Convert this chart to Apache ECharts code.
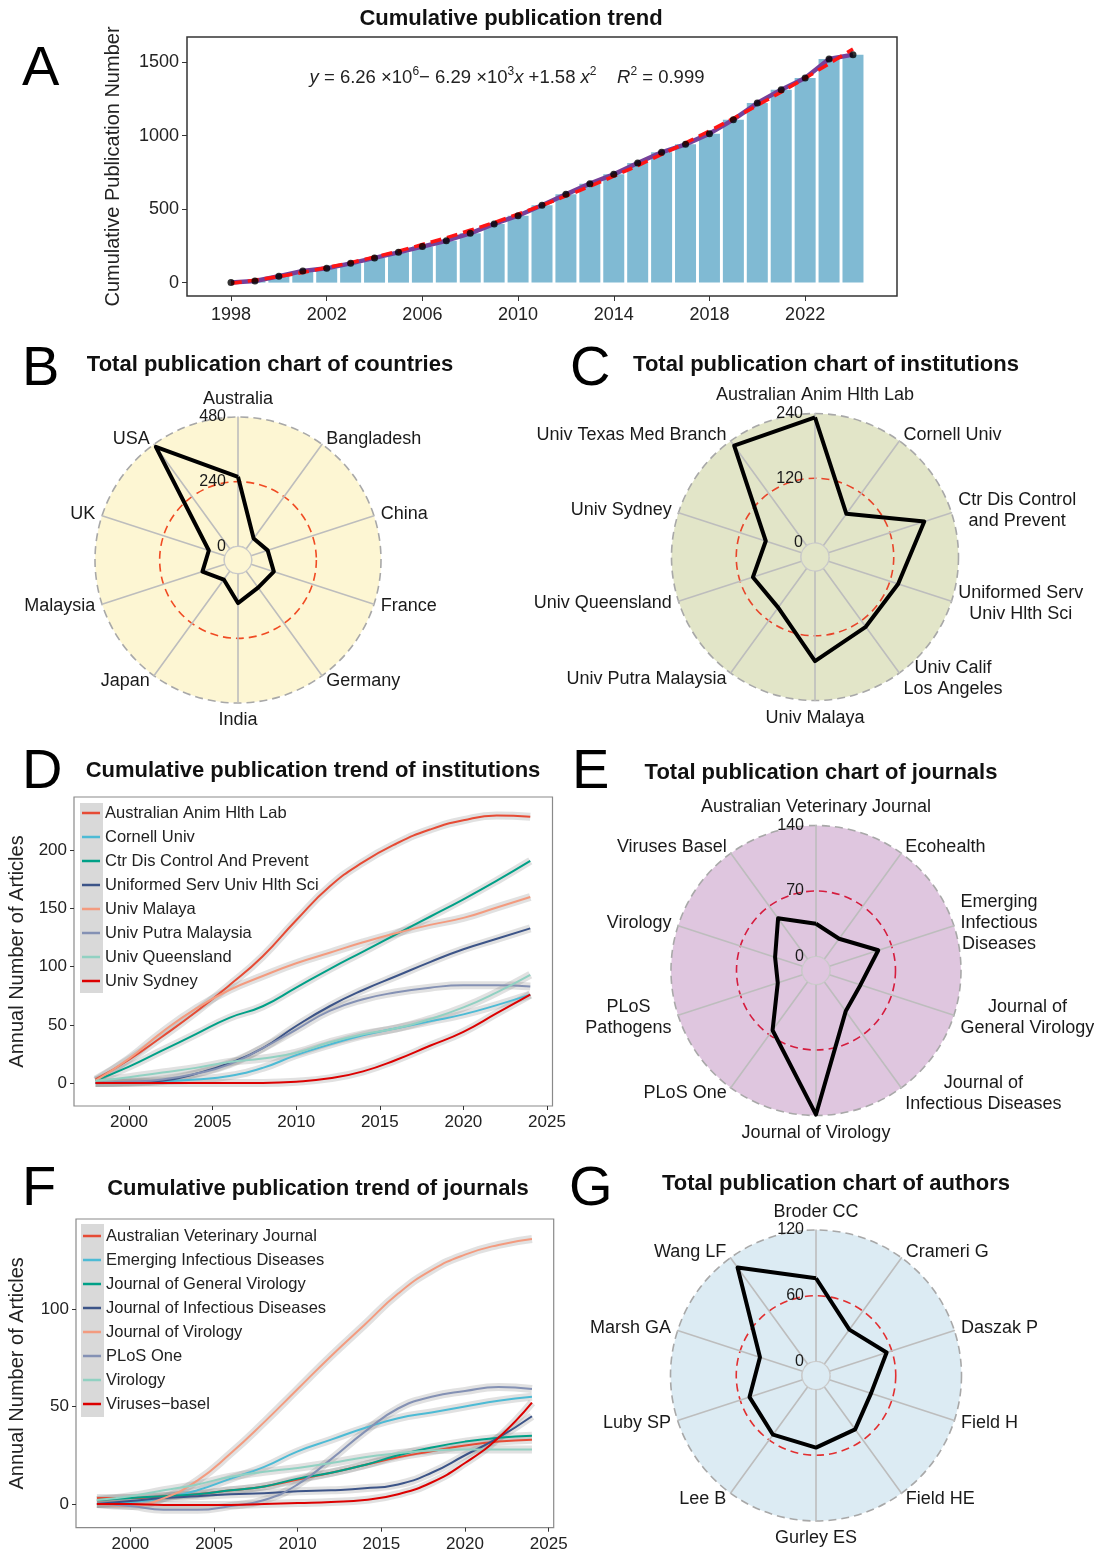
<!DOCTYPE html>
<html><head><meta charset="utf-8">
<script src="https://cdn.jsdelivr.net/npm/echarts@6/dist/echarts.min.js"></script>
<style>html,body{margin:0;padding:0;background:#fff}#c{width:1094px;height:1555px}</style>
</head><body><div id="c"></div>
<script>
const FONT = 'Arial, "Liberation Sans", Helvetica, sans-serif';

// ---------- Panel A data ----------
const yearsA = [1998,1999,2000,2001,2002,2003,2004,2005,2006,2007,2008,2009,2010,2011,2012,2013,2014,2015,2016,2017,2018,2019,2020,2021,2022,2023,2024];
const cumulative = [0,11,43,79,97,131,168,206,245,285,335,399,455,526,600,673,736,813,886,940,1013,1108,1221,1312,1391,1520,1550];
const fitYears = [1998,2000,2002,2004,2006,2008,2010,2012,2014,2016,2018,2020,2022,2024];
const fitValues = [-5,42,102,174,259,356,466,589,724,872,1032,1205,1391,1589];
const yTicksA = [0,500,1000,1500];
const xTicksA = [1998,2002,2006,2010,2014,2018,2022];

// ---------- Radar data (clockwise from top) ----------
const countries = ['Australia','Bangladesh','China','France','Germany','India','Japan','Malaysia','UK','USA'];
const countryCounts = [258,48,65,89,76,109,39,88,63,468];
const institutions = ['Australian Anim Hlth Lab','Cornell Univ','Ctr Dis Control\nand Prevent','Uniformed Serv\nUniv Hlth Sci','Univ Calif\nLos Angeles','Univ Malaya','Univ Putra Malaysia','Univ Queensland','Univ Sydney','Univ Texas Med Branch'];
const institutionCounts = [233,73,187,136,134,167,90,95,70,229];
const journals = ['Australian Veterinary Journal','Ecohealth','Emerging\nInfectious\nDiseases','Journal of\nGeneral Virology','Journal of\nInfectious Diseases','Journal of Virology','PLoS One','PLoS\nPathogens','Virology','Viruses Basel'];
const journalCounts = [35,27,55,35,39,139,64,28,31,54];
const authors = ['Broder CC','Crameri G','Daszak P','Field H','Field HE','Gurley ES','Lee B','Luby SP','Marsh GA','Wang LF'];
const authorCounts = [76,39,55,40,48,53,54,51,41,109];

// ---------- Trend data (D, F) ----------
const trendYears = [1998,2000,2002,2004,2006,2008,2010,2012,2014,2016,2018,2020,2022,2024];
const trendTicks = [2000,2005,2010,2015,2020,2025];
const palette = ['#E64B35','#4DBBD5','#00A087','#3C5488','#F39B7F','#8491B4','#91D1C2','#DC0000'];

const instNames = ['Australian Anim Hlth Lab','Cornell Univ','Ctr Dis Control And Prevent','Uniformed Serv Univ Hlth Sci','Univ Malaya','Univ Putra Malaysia','Univ Queensland','Univ Sydney'];
const instAAHL = [3,20,40,61,84,109,140,169,190,206,218,226,230,229];
const instCornell = [0,0.5,1.5,3,6,13,24,33,41,47,53,59,67,76];
const instCDC = [2,14,28,42,56,66,82,98,113,128,143,158,174,191];
const instUSU = [0,0.5,2,8,17,30,49,66,80,92,104,115,124,133];
const instMalaya = [2,21,44,64,80,92,103,112,121,129,136,142,151,160];
const instPutra = [0,1,3,8,16,30,46,62,72,78,82,84,84,83];
const instQueensland = [2,5,9,13,18,21,26,35,42,47,55,65,78,93];
const instSydney = [0,0,0,0,0,0,1,4,10,20,32,44,60,76];
const yTicksD = [0,50,100,150,200];

const jourNames = ['Australian Veterinary Journal','Emerging Infectious Diseases','Journal of General Virology','Journal of Infectious Diseases','Journal of Virology','PLoS One','Virology','Viruses\u2212basel'];
const jourAVJ = [3,3,4,5,7,9,12.5,16,20,24,27,30,32,33];
const jourEID = [0,1,3,7,13,19,27,33,39,44,47,50,53,55];
const jourJGV = [2,3,4,5,7,9,13,16,20,25,29,32,34,35];
const jourJID = [0,1.5,3,4,5,5.5,6.5,7,8,10,16,25,34,45];
const jourJV = [0,-1,3,12,26,42,59,76,92,108,120,128,133,136];
const jourPLoSOne = [0,-1,-3,-3,-1,2,10,23,37,49,55,58,60,59];
const jourVirology = [2,4,7,10,14,16.5,18.5,21,24,26,27.5,28,28,28];
const jourViruses = [0,0,-0.5,-0.5,-0.5,0,0.5,1,2,5,11,21,34,52];
const yTicksF = [0,50,100];

// ---------- builders ----------
const pairs = (xs, ys) => xs.map((x, i) => [x, ys[i]]);
const radarOrder = arr => [arr[0]].concat(arr.slice(1).reverse());
const plain = v => String(v);

const radars = [];
const radarSeries = [];
const graphics = [];
function addRadar(names, values, max, cx, cy, r0, R, bg, red) {
  const n = radarOrder(names), v = radarOrder(values);
  const idx = radars.length;
  radars.push({
    center: [cx, cy], radius: [r0, R], startAngle: 90, shape: 'circle', splitNumber: 2,
    indicator: n.map((nm, i) => i === 0
      ? {name: nm, min: 0, max: max, axisLabel: {show: true, fontSize: 16, color: '#1a1a1a', fontFamily: FONT, margin: 12}}
      : {name: nm, min: 0, max: max}),
    axisName: {color: '#1a1a1a', fontSize: 18, fontFamily: FONT, lineHeight: 21,
      formatter: nm => nm.split('\n').map(s => '{c|' + s + '}').join('\n'),
      rich: {c: {align: 'center', fontSize: 18, lineHeight: 21, color: '#1a1a1a', fontFamily: FONT}}},
    nameGap: 7,
    axisLine: {lineStyle: {color: '#bdbdbd', width: 1.6}},
    axisTick: {show: false},
    axisLabel: {show: false, color: '#1a1a1a', fontSize: 16, fontFamily: FONT, margin: 12},
    splitLine: {lineStyle: {color: ['#c9c9c9', red, '#a8a8a8'], type: [8, 5], width: 1.6}},
    splitArea: {show: true, areaStyle: {color: [bg, bg]}}
  });
  radarSeries.push({
    type: 'radar', radarIndex: idx, symbol: 'none', silent: true,
    lineStyle: {color: '#000', width: 4},
    data: [{value: v}]
  });
  graphics.push({type: 'circle', shape: {cx: cx, cy: cy, r: r0}, style: {fill: bg, stroke: '#c9c9c9', lineWidth: 1.2}, z: 1});
}
addRadar(countries, countryCounts, 480, 238, 560, 13.7, 143, '#fdf6d3', '#f04b23');
addRadar(institutions, institutionCounts, 240, 815, 557, 14, 143.5, '#e2e5c8', '#e8452a');
addRadar(journals, journalCounts, 140, 816, 970.5, 14, 145, '#dfc6df', '#d51c3e');
addRadar(authors, authorCounts, 120, 816, 1375.5, 14, 145.5, '#dcebf3', '#e22f30');

function trendSeries(names, arrays, axisIdx) {
  const out = [];
  arrays.forEach((arr) => {
    out.push({type: 'line', xAxisIndex: axisIdx, yAxisIndex: axisIdx, data: pairs(trendYears, arr), smooth: true,
      symbol: 'none', silent: true, z: 1, lineStyle: {width: 8, color: 'rgba(140,140,140,0.26)'}});
  });
  arrays.forEach((arr, i) => {
    out.push({type: 'line', name: names[i], xAxisIndex: axisIdx, yAxisIndex: axisIdx, data: pairs(trendYears, arr), smooth: true,
      symbol: 'none', z: 3, color: palette[i], lineStyle: {width: 2, color: palette[i]}});
  });
  return out;
}

const axisLabelStyle = {color: '#222', fontSize: 17, fontFamily: FONT, formatter: plain};
const letter = (t, l, tp) => ({text: t, left: l, top: tp, padding: 0, textStyle: {fontSize: 56, fontWeight: 'normal', color: '#000', fontFamily: FONT}});
const head = (t, c, tp) => ({text: t, left: c, top: tp, textAlign: 'center', padding: 0, textStyle: {fontSize: 22, fontWeight: 'bold', color: '#111', fontFamily: FONT}});

const option = {
  animation: false,
  backgroundColor: '#fff',
  textStyle: {fontFamily: FONT},
  title: [
    letter('A', 22, 42), letter('B', 22, 342), letter('C', 570, 342), letter('D', 22, 745),
    letter('E', 572, 745), letter('F', 22, 1162), letter('G', 569, 1162),
    head('Cumulative publication trend', 511, 8),
    head('Total publication chart of countries', 270, 354),
    head('Total publication chart of institutions', 826, 354),
    head('Cumulative publication trend of institutions', 313, 760),
    head('Total publication chart of journals', 821, 762),
    head('Cumulative publication trend of journals', 318, 1178),
    head('Total publication chart of authors', 836, 1173),
    {text: '{i|y} = 6.26 \u00d710{s|6}\u2212 6.29 \u00d710{s|3}{i|x} +1.58 {i|x}{s|2}    {i|R}{s|2} = 0.999', left: 507, top: 66, textAlign: 'center', padding: 0,
      textStyle: {fontSize: 18.5, fontWeight: 'normal', color: '#222', lineHeight: 24, fontFamily: FONT,
        rich: {i: {fontStyle: 'italic', fontSize: 18.5, lineHeight: 24, color: '#222', fontFamily: FONT},
               s: {fontSize: 12, lineHeight: 13, verticalAlign: 'top', color: '#222', fontFamily: FONT}}}}
  ],
  legend: [
    {data: instNames, orient: 'vertical', left: 82, top: 804.5, padding: 0, itemWidth: 18, itemHeight: 2.5, icon: 'rect', itemGap: 7,
      textStyle: {fontSize: 16.5, color: '#222', lineHeight: 17, fontFamily: FONT}, selectedMode: false},
    {data: jourNames, orient: 'vertical', left: 83, top: 1227.5, padding: 0, itemWidth: 18, itemHeight: 2.5, icon: 'rect', itemGap: 7,
      textStyle: {fontSize: 16.5, color: '#222', lineHeight: 17, fontFamily: FONT}, selectedMode: false}
  ],
  grid: [
    {left: 187, top: 37, width: 710, height: 259, show: true, borderColor: '#333', borderWidth: 1.5, backgroundColor: 'transparent'},
    {left: 74, top: 797, width: 478.5, height: 309, show: true, borderColor: '#8a8a8a', borderWidth: 1.2, backgroundColor: 'transparent'},
    {left: 76, top: 1219, width: 477.7, height: 308.7, show: true, borderColor: '#8a8a8a', borderWidth: 1.2, backgroundColor: 'transparent'}
  ],
  xAxis: [
    {gridIndex: 0, type: 'value', min: 1996.16, max: 2025.84, axisLine: {show: false, onZero: false}, splitLine: {show: false},
      axisTick: {show: true, length: 5, customValues: xTicksA, lineStyle: {color: '#333'}},
      axisLabel: {customValues: xTicksA, margin: 10, fontSize: 18, color: '#222', fontFamily: FONT, formatter: plain}},
    {gridIndex: 1, type: 'value', min: 1996.71, max: 2025.33, axisLine: {show: false, onZero: false}, splitLine: {show: false},
      axisTick: {show: true, length: 4, customValues: trendTicks, lineStyle: {color: '#333'}},
      axisLabel: Object.assign({customValues: trendTicks, margin: 8}, axisLabelStyle)},
    {gridIndex: 2, type: 'value', min: 1996.75, max: 2025.3, axisLine: {show: false, onZero: false}, splitLine: {show: false},
      axisTick: {show: true, length: 4, customValues: trendTicks, lineStyle: {color: '#333'}},
      axisLabel: Object.assign({customValues: trendTicks, margin: 8}, axisLabelStyle)}
  ],
  yAxis: [
    {gridIndex: 0, type: 'value', min: -91, max: 1670, axisLine: {show: false, onZero: false}, splitLine: {show: false},
      axisTick: {show: true, length: 5, customValues: yTicksA, lineStyle: {color: '#333'}},
      axisLabel: {customValues: yTicksA, margin: 8, fontSize: 18, color: '#222', fontFamily: FONT, formatter: plain},
      name: 'Cumulative Publication Number', nameLocation: 'middle', nameGap: 64, nameRotate: 90,
      nameTextStyle: {fontSize: 20, color: '#222', fontFamily: FONT}},
    {gridIndex: 1, type: 'value', min: -19.8, max: 246, axisLine: {show: false, onZero: false}, splitLine: {show: false},
      axisTick: {show: true, length: 4, customValues: yTicksD, lineStyle: {color: '#333'}},
      axisLabel: Object.assign({customValues: yTicksD, margin: 7}, axisLabelStyle),
      name: 'Annual Number of Articles', nameLocation: 'middle', nameGap: 47, nameRotate: 90,
      nameTextStyle: {fontSize: 20, color: '#222', fontFamily: FONT}},
    {gridIndex: 2, type: 'value', min: -12.2, max: 146.3, axisLine: {show: false, onZero: false}, splitLine: {show: false},
      axisTick: {show: true, length: 4, customValues: yTicksF, lineStyle: {color: '#333'}},
      axisLabel: Object.assign({customValues: yTicksF, margin: 7}, axisLabelStyle),
      name: 'Annual Number of Articles', nameLocation: 'middle', nameGap: 49, nameRotate: 90,
      nameTextStyle: {fontSize: 20, color: '#222', fontFamily: FONT}}
  ],
  radar: radars,
  graphic: {elements: graphics.concat([
    {type: 'rect', shape: {x: 80, y: 803, width: 23, height: 190}, style: {fill: '#d9d9d9'}, z: 1},
    {type: 'rect', shape: {x: 81, y: 1224, width: 23, height: 193}, style: {fill: '#d9d9d9'}, z: 1}
  ])},
  series: [
    {type: 'bar', xAxisIndex: 0, yAxisIndex: 0, data: pairs(yearsA, cumulative), barWidth: 21, itemStyle: {color: '#80bad3'}, silent: true, z: 1},
    {type: 'line', xAxisIndex: 0, yAxisIndex: 0, data: pairs(yearsA, cumulative), symbol: 'none', lineStyle: {color: '#76409a', width: 4.5}, silent: true, z: 2},
    {type: 'line', xAxisIndex: 0, yAxisIndex: 0, data: pairs(fitYears, fitValues), smooth: true, symbol: 'none', lineStyle: {color: '#ff1414', width: 3.5, type: [11, 6]}, silent: true, z: 3},
    {type: 'scatter', xAxisIndex: 0, yAxisIndex: 0, data: pairs(yearsA, cumulative), symbolSize: 7, itemStyle: {color: '#000'}, silent: true, z: 4}
  ].concat(radarSeries)
   .concat(trendSeries(instNames, [instAAHL, instCornell, instCDC, instUSU, instMalaya, instPutra, instQueensland, instSydney], 1))
   .concat(trendSeries(jourNames, [jourAVJ, jourEID, jourJGV, jourJID, jourJV, jourPLoSOne, jourVirology, jourViruses], 2))
};

const chart = echarts.init(document.getElementById('c'));
chart.setOption(option);
</script>
</body></html>
